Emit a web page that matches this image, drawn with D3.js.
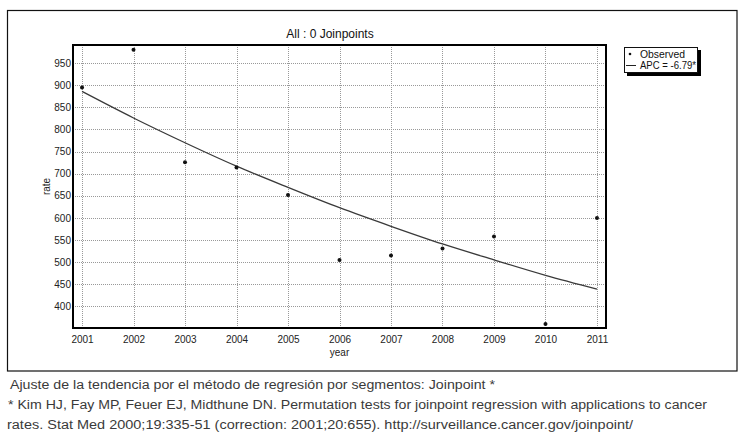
<!DOCTYPE html>
<html>
<head>
<meta charset="utf-8">
<script src="https://cdn.jsdelivr.net/npm/d3@7"></script>
<style>
  html, body { margin: 0; padding: 0; background: #fff; }
  svg { display: block; }
</style>
</head>
<body>
<svg id="chart" width="751" height="434"></svg>
<script>
// ---- data ----
const years = [2001, 2002, 2003, 2004, 2005, 2006, 2007, 2008, 2009, 2010, 2011];
const observed = [895, 980, 726, 714, 652, 505, 515, 531, 558, 360, 600];
const fitted = [886, 826, 770, 717, 669, 623, 581, 541, 505, 470, 439];
const yTicks = [400, 450, 500, 550, 600, 650, 700, 750, 800, 850, 900, 950];
const titleText = "All : 0 Joinpoints";
const legendLabels = ["Observed", "APC = -6.79*"];
const xLabel = "year";
const yLabel = "rate";
const captionLines = [
  "Ajuste de la tendencia por el método de regresión por segmentos: Joinpoint *",
  "* Kim HJ, Fay MP, Feuer EJ, Midthune DN. Permutation tests for joinpoint regression with applications to cancer",
  "rates. Stat Med 2000;19:335-51 (correction: 2001;20:655). http://surveillance.cancer.gov/joinpoint/"
];

// ---- layout ----
const svg = d3.select("#chart");
const plot = { left: 73, top: 45, right: 606, bottom: 328 };
const font = "'Liberation Sans', Arial, sans-serif";

// outer frame
svg.append("rect").attr("x", 7.5).attr("y", 10.5).attr("width", 729.5).attr("height", 360.5)
  .attr("fill", "#fff").attr("stroke", "#111").attr("stroke-width", 1.2);

const x = d3.scaleLinear().domain([2000.825, 2011.175]).range([plot.left, plot.right]);
const y = d3.scaleLinear().domain([351, 991]).range([plot.bottom, plot.top]);

// grid
const g = svg.append("g");
g.selectAll("line.vg").data(years).join("line")
  .attr("x1", d => Math.round(x(d)) + 0.5).attr("x2", d => Math.round(x(d)) + 0.5)
  .attr("y1", plot.top).attr("y2", plot.bottom)
  .attr("stroke", "#999").attr("stroke-width", 1).attr("stroke-dasharray", "1,1");
g.selectAll("line.hg").data(yTicks).join("line")
  .attr("x1", plot.left).attr("x2", plot.right)
  .attr("y1", d => Math.round(y(d)) + 0.5).attr("y2", d => Math.round(y(d)) + 0.5)
  .attr("stroke", "#999").attr("stroke-width", 1).attr("stroke-dasharray", "1,1");

// axes (labels only)
const yAxis = d3.axisLeft(y).tickValues(yTicks).tickSize(0).tickPadding(2);
const yG = svg.append("g").attr("transform", `translate(${plot.left},0)`).call(yAxis);
yG.select(".domain").remove();
yG.selectAll("text").attr("font-family", font).attr("font-size", 10).attr("fill", "#222");

const xAxis = d3.axisBottom(x).tickValues(years).tickFormat(d3.format("d")).tickSize(0).tickPadding(8);
const xG = svg.append("g").attr("transform", `translate(0,${plot.bottom})`).call(xAxis);
xG.select(".domain").remove();
xG.selectAll("text").attr("font-family", font).attr("font-size", 10).attr("fill", "#222");

// plot frame
svg.append("rect").attr("x", plot.left).attr("y", plot.top)
  .attr("width", plot.right - plot.left).attr("height", plot.bottom - plot.top)
  .attr("fill", "none").attr("stroke", "#000").attr("stroke-width", 2);

// fitted line
const line = d3.line().x((d, i) => x(years[i])).y(d => y(d)).curve(d3.curveMonotoneX);
svg.append("path").datum(fitted).attr("d", line)
  .attr("fill", "none").attr("stroke", "#3a3a3a").attr("stroke-width", 1.3);

// observed points
svg.selectAll("circle.obs").data(observed).join("circle")
  .attr("cx", (d, i) => x(years[i])).attr("cy", d => y(d)).attr("r", 2)
  .attr("fill", "#111");

// title
svg.append("text").attr("x", 330).attr("y", 38).attr("text-anchor", "middle")
  .attr("font-family", font).attr("font-size", 12).attr("fill", "#111").text(titleText);

// axis titles
svg.append("text").attr("x", x(2006)).attr("y", 356).attr("text-anchor", "middle")
  .attr("font-family", font).attr("font-size", 10).attr("fill", "#222").text(xLabel);
svg.append("text").attr("transform", `translate(50,${(plot.top + plot.bottom) / 2}) rotate(-90)`)
  .attr("text-anchor", "middle").attr("font-family", font).attr("font-size", 10)
  .attr("fill", "#222").text(yLabel);

// legend
const lg = svg.append("g");
lg.append("rect").attr("x", 627).attr("y", 50).attr("width", 74).attr("height", 26).attr("fill", "#000");
lg.append("rect").attr("x", 624.5).attr("y", 47.5).attr("width", 73).attr("height", 25)
  .attr("fill", "#fff").attr("stroke", "#111").attr("stroke-width", 1);
lg.append("circle").attr("cx", 630).attr("cy", 54).attr("r", 1.3).attr("fill", "#111");
lg.append("line").attr("x1", 626).attr("x2", 636).attr("y1", 65.5).attr("y2", 65.5)
  .attr("stroke", "#222").attr("stroke-width", 1);
const legW = [45, 56];
lg.selectAll("text.lg").data(legendLabels).join("text")
  .attr("x", 640).attr("y", (d, i) => 58 + i * 11)
  .attr("font-family", font).attr("font-size", 10).attr("fill", "#111")
  .attr("textLength", (d, i) => legW[i]).attr("lengthAdjust", "spacingAndGlyphs")
  .text(d => d);

// caption
const capEnds = [495, 707, 633];
const capStarts = [10, 8, 7];
svg.selectAll("text.cap").data(captionLines).join("text")
  .attr("x", (d, i) => capStarts[i]).attr("y", (d, i) => 388.5 + i * 20)
  .attr("font-family", font).attr("font-size", 12.5).attr("fill", "#3a3a3a")
  .attr("textLength", (d, i) => capEnds[i] - capStarts[i])
  .attr("lengthAdjust", "spacingAndGlyphs")
  .text(d => d);
</script>
</body>
</html>
